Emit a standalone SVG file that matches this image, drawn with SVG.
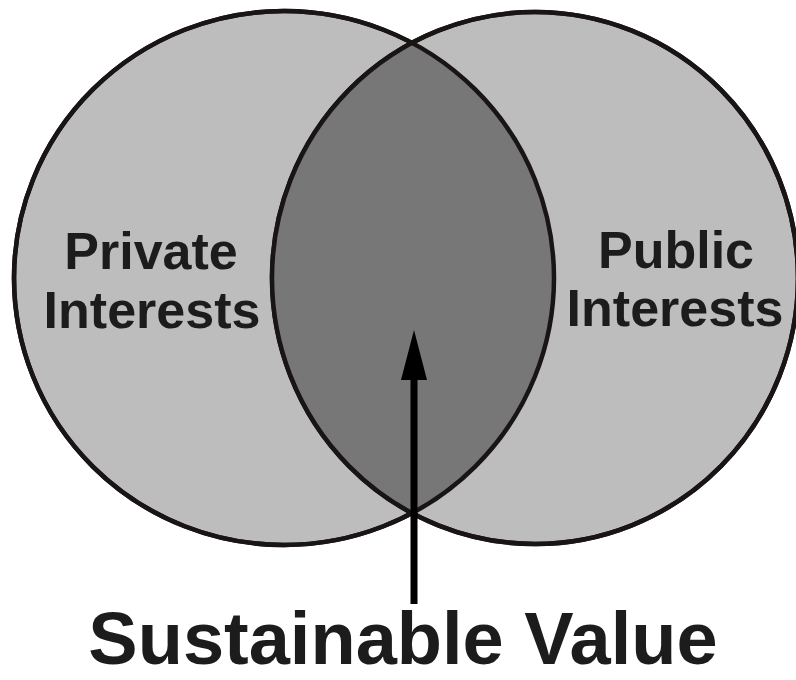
<svg xmlns="http://www.w3.org/2000/svg" width="796" height="680" viewBox="0 0 796 680">
<style>
.circ{fill:#bdbdbd;stroke:#1a1515;stroke-width:4.5}
.edge{fill:none;stroke:#1a1515;stroke-width:4.5}
.lbl{font-family:"Liberation Sans",Arial,sans-serif;font-weight:bold;fill:#1c1c1c;text-anchor:middle}
</style>
<defs>
<clipPath id="leftClip"><ellipse cx="284" cy="278" rx="270" ry="267"/></clipPath>
</defs>
<rect width="796" height="680" fill="#ffffff"/>
<g id="private">
<ellipse class="circ" cx="284" cy="278" rx="270" ry="267"/>
</g>
<g id="public">
<ellipse class="circ" cx="535" cy="278" rx="263" ry="266"/>
</g>
<g id="overlap">
<ellipse cx="535" cy="278" rx="263" ry="266" fill="#777777" clip-path="url(#leftClip)"/>
<ellipse class="edge" cx="284" cy="278" rx="270" ry="267"/>
<ellipse class="edge" cx="535" cy="278" rx="263" ry="266"/>
</g>
<g id="private-label">
<text class="lbl" x="151" y="269" font-size="52">Private</text>
<text class="lbl" x="152" y="328" font-size="52">Interests</text>
</g>
<g id="public-label">
<text class="lbl" x="676" y="268" font-size="52">Public</text>
<text class="lbl" x="675" y="326" font-size="52">Interests</text>
</g>
<g id="connectors">
<line x1="414" y1="604" x2="414" y2="376" stroke="#000000" stroke-width="7"/>
<polygon points="414,330 427,380 401,380" fill="#000000"/>
</g>
<g id="sustainable-value">
<text class="lbl" x="403" y="664" font-size="74">Sustainable Value</text>
</g>
</svg>
